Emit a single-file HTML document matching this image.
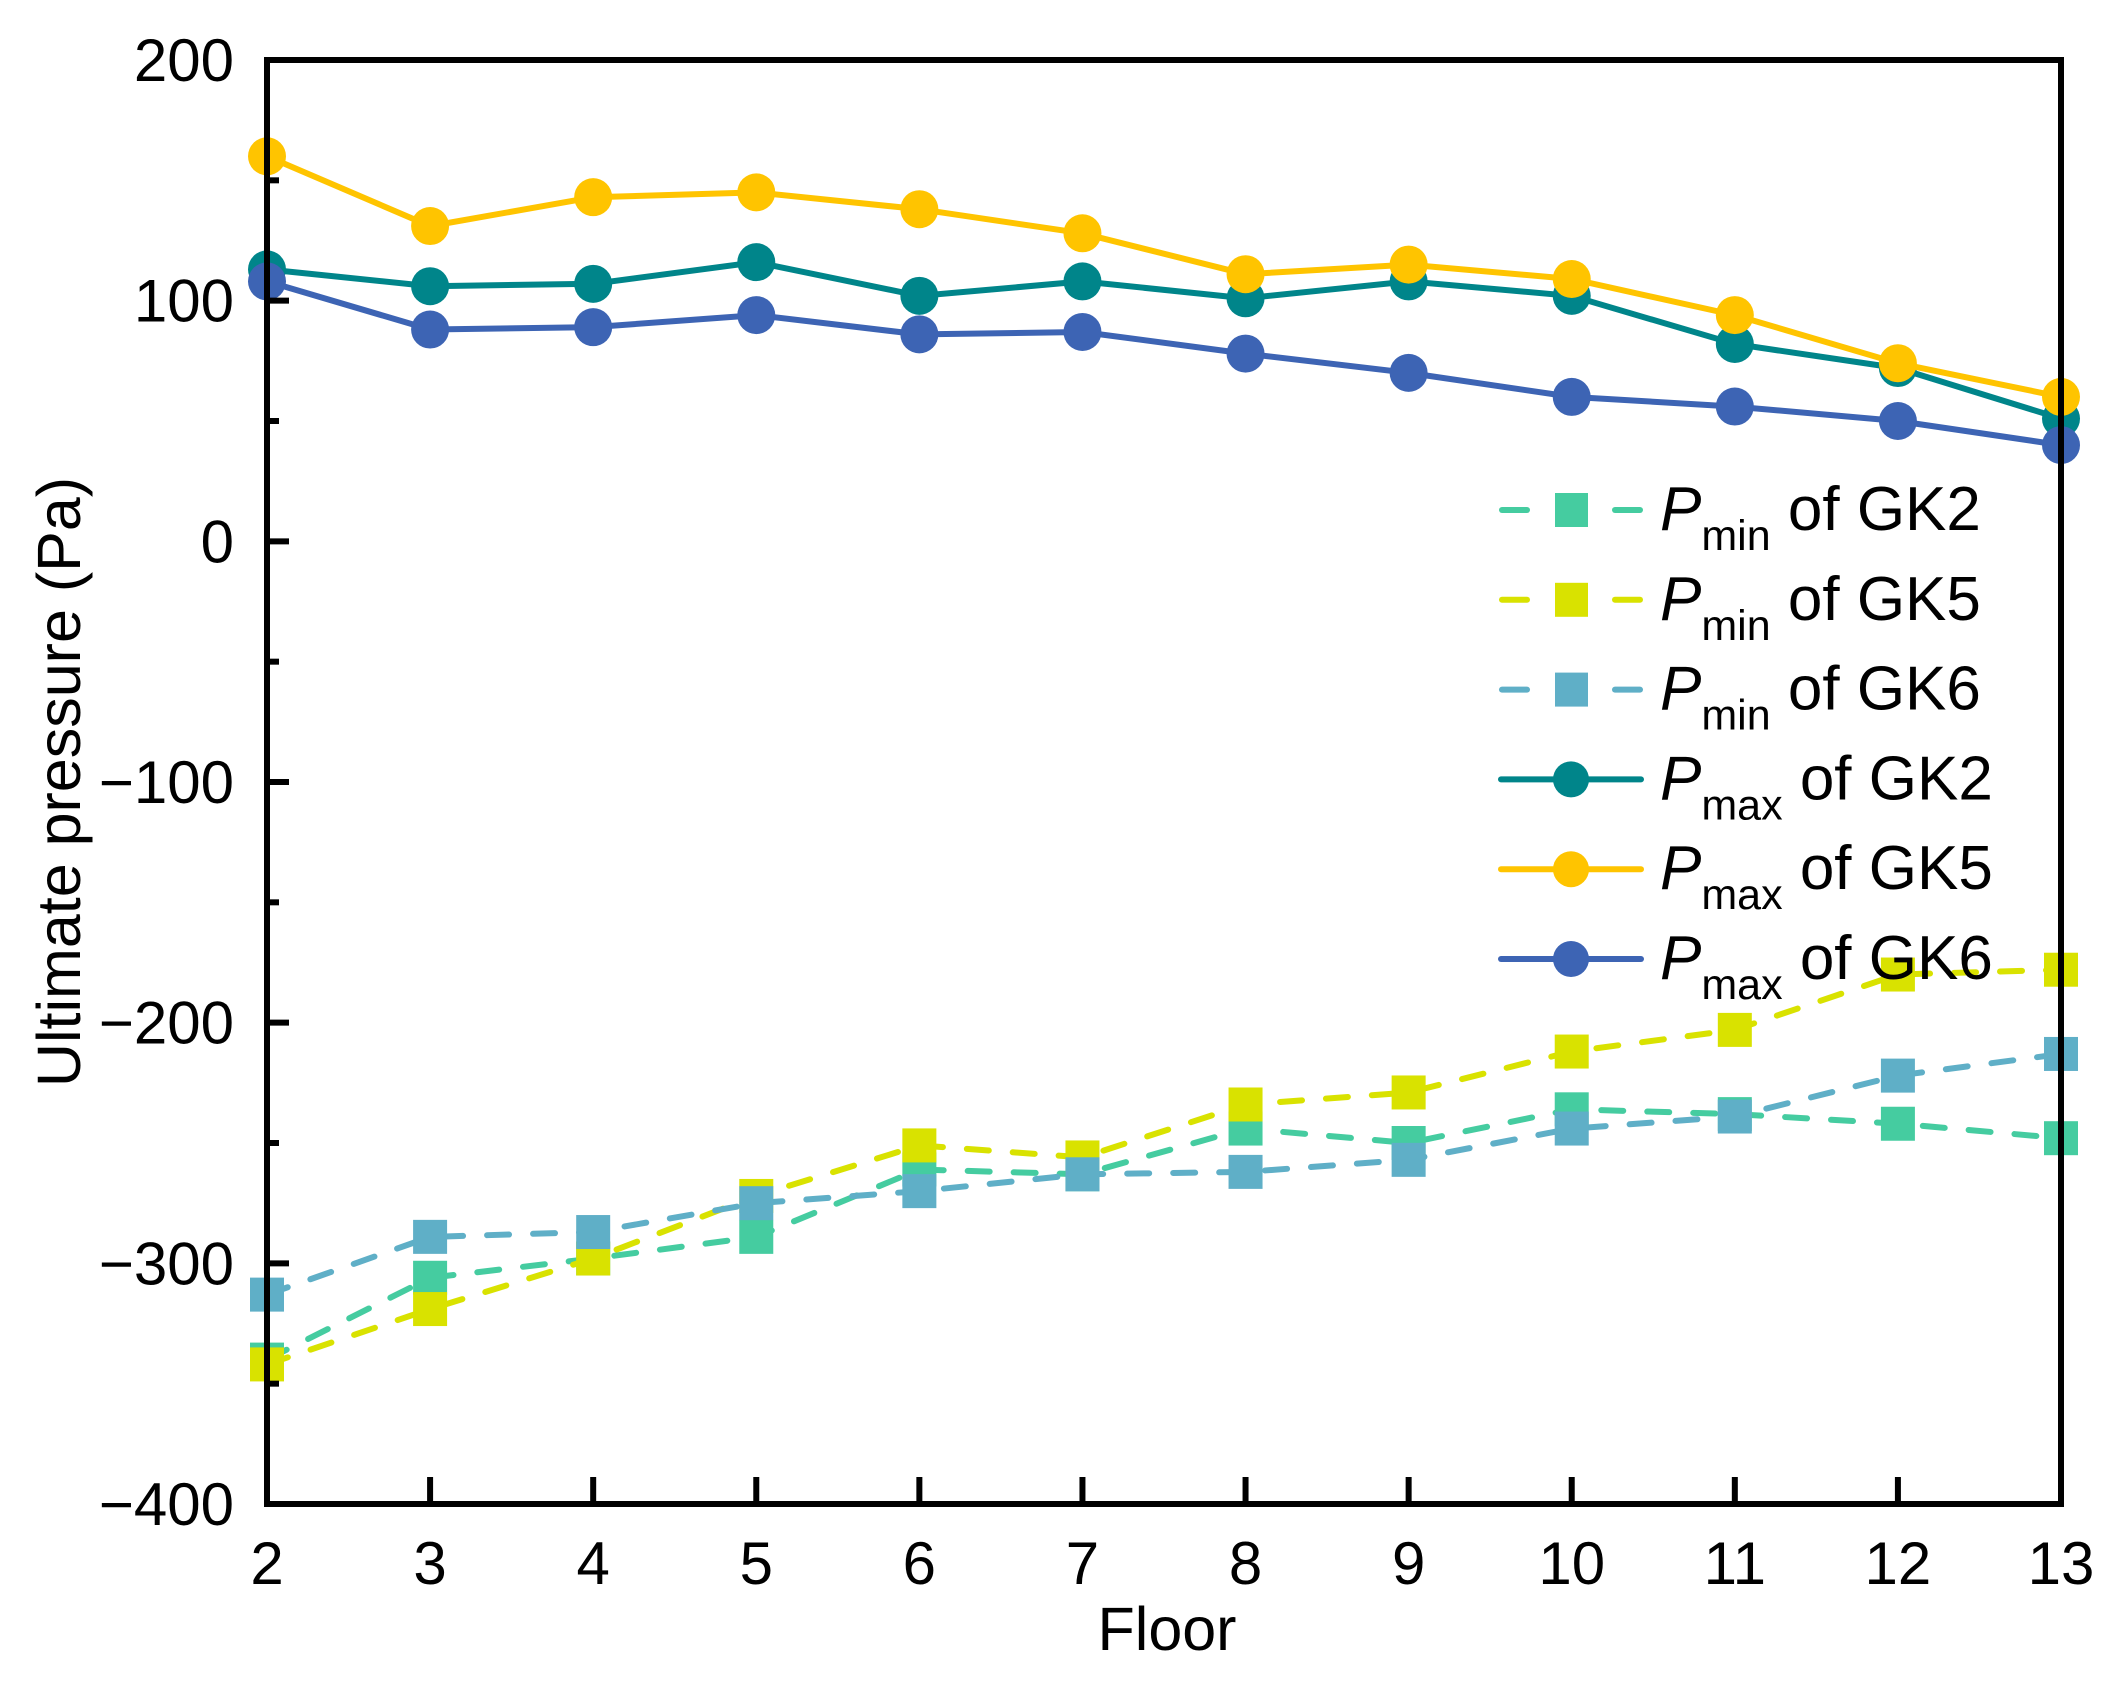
<!DOCTYPE html>
<html><head><meta charset="utf-8"><style>
html,body{margin:0;padding:0;background:#fff;}
svg text{font-family:"Liberation Sans",Arial,sans-serif;fill:#000;}
</style></head><body>
<svg id="chart" width="2120" height="1687" viewBox="0 0 2120 1687" xmlns="http://www.w3.org/2000/svg">
<g id="series"></g>
<g id="axes"></g>
<g id="legend"></g>
</svg>
<script>
const floors = [2,3,4,5,6,7,8,9,10,11,12,13];
const pminGK2 = [-340,-306,-298,-289,-261,-263,-244,-250,-236,-238,-242,-248];
const pminGK5 = [-342,-319,-298,-272,-251,-256,-234,-229,-212,-203,-180,-178];
const pminGK6 = [-313,-289,-287,-275,-270,-263,-262,-257,-244,-239,-222,-213];
const pmaxGK2 = [113,106,107,116,102,108,101,108,102,82,72,51];
const pmaxGK5 = [160,131,143,145,138,128,111,115,109,94,74,60];
const pmaxGK6 = [108,88,89,94,86,87,78,70,60,56,50,40];
const yTicks = [200,100,0,-100,-200,-300,-400];
const yTickLabels = ["200","100","0","\u2212100","\u2212200","\u2212300","\u2212400"];
const xTickLabels = ["2","3","4","5","6","7","8","9","10","11","12","13"];

const NS="http://www.w3.org/2000/svg";
const L=267,R=2061,T=60,B=1504;
const xMin=2,xMax=13,yMin=-400,yMax=200;
function sx(v){return L+(v-xMin)/(xMax-xMin)*(R-L);}
function sy(v){return B-(v-yMin)/(yMax-yMin)*(B-T);}
function mk(tag,attrs,parent){const e=document.createElementNS(NS,tag);for(const k in attrs)e.setAttribute(k,attrs[k]);parent.appendChild(e);return e;}

const gS=document.getElementById('series'),gA=document.getElementById('axes'),gL=document.getElementById('legend');

const series=[
 {name:'pmin-gk2',vals:pminGK2,color:'#45cca0',dash:true,shape:'sq',sub:'min',lab:'GK2'},
 {name:'pmin-gk5',vals:pminGK5,color:'#d9e200',dash:true,shape:'sq',sub:'min',lab:'GK5'},
 {name:'pmin-gk6',vals:pminGK6,color:'#5fafc7',dash:true,shape:'sq',sub:'min',lab:'GK6'},
 {name:'pmax-gk2',vals:pmaxGK2,color:'#00858a',dash:false,shape:'ci',sub:'max',lab:'GK2'},
 {name:'pmax-gk5',vals:pmaxGK5,color:'#ffc400',dash:false,shape:'ci',sub:'max',lab:'GK5'},
 {name:'pmax-gk6',vals:pmaxGK6,color:'#3d64b4',dash:false,shape:'ci',sub:'max',lab:'GK6'}
];

series.forEach(s=>{
  const g=mk('g',{},gS);
  
  
  const pts=floors.map((f,i)=>sx(f).toFixed(1)+','+sy(s.vals[i]).toFixed(1)).join(' ');
  const pl=mk('polyline',{points:pts,fill:'none',stroke:s.color,'stroke-width':6,'stroke-linecap':'round','stroke-dasharray':s.dash?'22 24':'none'},g);
  
  
  floors.forEach((f,i)=>{
    let m;
    if(s.shape==='sq'){m=mk('rect',{x:sx(f)-17,y:sy(s.vals[i])-17,width:34,height:34,fill:s.color},g);}
    else{m=mk('circle',{cx:sx(f),cy:sy(s.vals[i]),r:19,fill:s.color},g);}
    
    
  });
});

const fr=mk('rect',{x:L,y:T,width:R-L,height:B-T,fill:'none',stroke:'#000','stroke-width':6},gA);


yTicks.forEach((v,i)=>{
  const t=mk('line',{x1:L,x2:L+22,y1:sy(v),y2:sy(v),stroke:'#000','stroke-width':6},gA);
  
  
  if(i<yTicks.length-1){
    const m=(v+yTicks[i+1])/2;
    const t2=mk('line',{x1:L,x2:L+12,y1:sy(m),y2:sy(m),stroke:'#000','stroke-width':6},gA);
    
    
  }
  const tx=mk('text',{x:234,y:sy(v)+21,'font-size':60,'text-anchor':'end'},gA);
  tx.textContent=yTickLabels[i];
  
  
});
floors.forEach((f,i)=>{
  const t=mk('line',{x1:sx(f),x2:sx(f),y1:B,y2:B-27,stroke:'#000','stroke-width':6},gA);
  
  
  const tx=mk('text',{x:sx(f),y:1584,'font-size':60,'text-anchor':'middle'},gA);
  tx.textContent=xTickLabels[i];
  
  
});
const xt=mk('text',{x:1167,y:1650,'font-size':61,'text-anchor':'middle'},gA);
xt.textContent='Floor';


const yt=mk('text',{x:0,y:0,'font-size':61,'text-anchor':'middle',transform:'translate(80,782) rotate(-90)'},gA);
yt.textContent='Ultimate pressure (Pa)';



series.forEach((s,i)=>{
  const y=510+i*89.8;
  const g=mk('g',{},gL);
  
  
  if(s.dash){
    mk('line',{x1:1502,x2:1527,y1:y,y2:y,stroke:s.color,'stroke-width':6,'stroke-linecap':'round'},g);
    mk('line',{x1:1615,x2:1640,y1:y,y2:y,stroke:s.color,'stroke-width':6,'stroke-linecap':'round'},g);
    mk('rect',{x:1555,y:y-17,width:33,height:34,fill:s.color},g);
  } else {
    mk('line',{x1:1501,x2:1641,y1:y,y2:y,stroke:s.color,'stroke-width':6,'stroke-linecap':'round'},g);
    mk('circle',{cx:1571,cy:y,r:18,fill:s.color},g);
  }
  const tx=mk('text',{x:1660,y:y+20,'font-size':62},g);
  const p=mk('tspan',{'font-style':'italic'},tx);p.textContent='P';
  const sb=mk('tspan',{'font-size':43,dy:20},tx);sb.textContent=s.sub;
  const rest=mk('tspan',{dy:-20},tx);rest.textContent=' of '+s.lab;
  
  
});
</script>
</body></html>
